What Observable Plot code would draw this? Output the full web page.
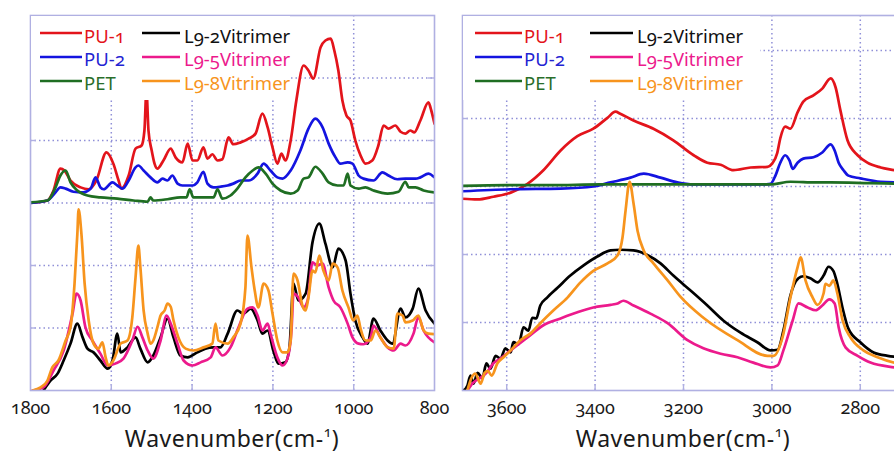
<!DOCTYPE html>
<html>
<head>
<meta charset="utf-8">
<script src="https://cdn.jsdelivr.net/npm/d3@7"></script>
<script src="https://cdn.jsdelivr.net/npm/@observablehq/plot@0.6"></script>
<style>
html, body { margin: 0; padding: 0; background: #fff; overflow: hidden; }
#wrap { position: relative; width: 894px; height: 455px; overflow: hidden; background: #fff;
  font-family: "Noto Sans", sans-serif; }
#wrap text { font-variant-numeric: oldstyle-nums; font-feature-settings: "onum" 1; }
.panel { position: absolute; top: 0; }
.panel svg { max-width: none; background: transparent; overflow: visible; }
#overlay { position: absolute; left: 0; top: 0; pointer-events: none; }
</style>
</head>
<body>
<div id="wrap">
  <div id="left" class="panel" style="left:0px;width:460px"></div>
  <div id="right" class="panel" style="left:440px;width:480px"></div>
  <svg id="overlay" width="894" height="455"></svg>
</div>
<script>
// ---------- series names and colours ----------
const seriesNames = ["PU-1", "PU-2", "PET", "L9-2Vitrimer", "L9-5Vitrimer", "L9-8Vitrimer"];
const seriesColors = ["#e3141b", "#1414e0", "#1f6e22", "#000000", "#ec1a8c", "#f7941d"];
const textColors  = ["#e3141b", "#2323d2", "#2a6e2a", "#111111", "#ec1a8c", "#f7941d"];

// ---------- axis ticks ----------
const leftTicks  = [1800, 1600, 1400, 1200, 1000, 800];
const leftGridX  = [1600, 1400, 1200, 1000];
const rightTicks = [3600, 3400, 3200, 3000, 2800];
const rightGridX = [3600, 3400, 3200, 3000, 2800];
const gridYLevels = [1, 2, 3, 4, 5];

// ---------- fingerprint region 1800–800 cm-1: [wavenumber, absorbance (offset)] ----------
const pu1Fp = [[1800,3.00],[1758,3.04],[1743,3.20],[1726,3.55],[1716,3.52],[1701,3.36],[1676,3.25],[1656,3.22],[1637,3.36],[1612,3.81],[1595,3.63],[1582,3.36],[1575,3.23],[1557,3.44],[1540,3.87],[1525,3.92],[1518,4.16],[1513,4.80],[1508,4.16],[1500,3.84],[1493,3.63],[1486,3.55],[1471,3.68],[1453,3.87],[1441,3.73],[1424,3.65],[1411,3.95],[1399,3.68],[1387,3.68],[1372,3.89],[1362,3.71],[1350,3.78],[1337,3.68],[1325,3.70],[1310,4.05],[1298,3.94],[1280,3.97],[1260,4.03],[1243,4.11],[1226,4.43],[1213,4.21],[1201,3.89],[1189,3.63],[1179,3.79],[1169,3.68],[1156,4.00],[1142,4.64],[1124,5.20],[1112,5.12],[1100,4.99],[1082,5.49],[1070,5.60],[1057,5.63],[1048,5.44],[1038,5.12],[1028,4.64],[1018,4.40],[1008,4.32],[996,4.00],[983,3.76],[971,3.63],[954,3.68],[939,3.92],[926,4.24],[914,4.19],[897,4.24],[884,4.14],[872,4.11],[860,4.16],[850,4.13],[835,4.32],[815,4.61],[808,4.48],[800,4.27]];
const pu2Fp = [[1800,3.00],[1758,3.04],[1738,3.17],[1726,3.25],[1713,3.23],[1694,3.18],[1669,3.17],[1651,3.23],[1639,3.41],[1627,3.25],[1619,3.22],[1597,3.33],[1585,3.28],[1572,3.23],[1557,3.36],[1540,3.57],[1533,3.60],[1520,3.52],[1503,3.41],[1486,3.33],[1473,3.39],[1461,3.36],[1449,3.44],[1436,3.31],[1424,3.28],[1399,3.28],[1387,3.33],[1372,3.50],[1362,3.31],[1347,3.25],[1330,3.26],[1312,3.28],[1298,3.31],[1280,3.36],[1260,3.36],[1238,3.47],[1223,3.63],[1206,3.52],[1189,3.41],[1176,3.39],[1156,3.52],[1132,3.84],[1112,4.19],[1095,4.35],[1077,4.21],[1062,3.95],[1045,3.73],[1033,3.63],[1015,3.65],[1003,3.63],[988,3.44],[976,3.39],[951,3.36],[929,3.49],[914,3.44],[892,3.38],[872,3.39],[847,3.39],[835,3.41],[815,3.47],[800,3.41]];
const petFp = [[1800,3.01],[1758,3.04],[1738,3.25],[1726,3.44],[1713,3.52],[1701,3.33],[1684,3.20],[1659,3.12],[1627,3.09],[1585,3.07],[1545,3.04],[1510,3.02],[1503,3.09],[1496,3.04],[1461,3.06],[1429,3.09],[1414,3.09],[1406,3.22],[1397,3.09],[1362,3.09],[1347,3.09],[1337,3.22],[1325,3.07],[1305,3.12],[1288,3.23],[1268,3.41],[1250,3.52],[1236,3.57],[1218,3.47],[1201,3.31],[1181,3.20],[1156,3.15],[1139,3.20],[1124,3.39],[1112,3.41],[1095,3.58],[1077,3.47],[1062,3.33],[1040,3.28],[1025,3.28],[1015,3.47],[1008,3.28],[988,3.23],[971,3.25],[951,3.20],[916,3.15],[889,3.18],[872,3.34],[864,3.25],[847,3.25],[827,3.20],[800,3.17]];
const l92Fp = [[1768,0.00],[1750,0.16],[1733,0.27],[1718,0.48],[1701,0.75],[1684,1.07],[1671,0.85],[1659,0.67],[1644,0.61],[1627,0.48],[1609,0.35],[1597,0.48],[1585,0.91],[1577,0.61],[1560,0.69],[1540,0.85],[1528,0.67],[1510,0.45],[1496,0.56],[1478,0.85],[1461,1.15],[1446,0.85],[1429,0.56],[1411,0.53],[1387,0.61],[1367,0.67],[1347,0.69],[1330,0.69],[1312,0.91],[1288,1.28],[1273,1.23],[1255,1.31],[1238,1.12],[1226,0.91],[1213,0.96],[1199,0.64],[1186,0.43],[1169,0.45],[1159,0.69],[1149,1.71],[1137,1.44],[1119,1.55],[1102,2.37],[1085,2.67],[1070,2.35],[1052,1.97],[1038,2.27],[1020,2.08],[1008,1.55],[996,1.12],[978,0.85],[966,0.75],[951,1.15],[934,0.96],[916,0.80],[904,0.75],[884,1.31],[872,1.17],[854,1.31],[840,1.63],[822,1.28],[800,1.07]];
const l95Fp = [[1795,0.00],[1768,0.05],[1743,0.32],[1718,0.64],[1696,1.23],[1686,1.55],[1676,1.44],[1664,1.01],[1647,0.80],[1627,0.59],[1609,0.40],[1590,0.43],[1570,0.51],[1548,0.80],[1535,1.02],[1523,0.85],[1510,0.64],[1496,0.51],[1478,0.80],[1463,1.20],[1453,1.07],[1436,0.75],[1421,0.48],[1399,0.40],[1379,0.45],[1354,0.53],[1342,0.69],[1325,0.56],[1305,0.69],[1285,1.01],[1263,1.31],[1250,1.33],[1238,1.20],[1226,0.96],[1213,1.07],[1206,0.91],[1189,0.53],[1176,0.40],[1164,0.51],[1154,0.96],[1149,1.55],[1137,1.49],[1124,1.33],[1114,1.44],[1102,2.05],[1090,2.00],[1077,2.03],[1062,1.65],[1050,1.44],[1033,1.33],[1015,1.07],[1003,0.85],[988,0.75],[976,0.74],[958,0.85],[951,1.04],[934,0.85],[916,0.69],[901,0.64],[884,0.75],[872,0.72],[852,0.91],[840,1.17],[827,0.96],[800,0.77]];
const l98Fp = [[1795,0.00],[1775,0.05],[1758,0.16],[1746,0.37],[1731,0.48],[1713,0.80],[1701,1.01],[1691,1.71],[1684,2.51],[1681,2.90],[1674,2.51],[1666,1.71],[1656,1.12],[1644,0.75],[1632,0.67],[1622,0.77],[1614,0.53],[1607,0.40],[1595,0.48],[1577,0.75],[1560,0.80],[1548,1.17],[1540,1.81],[1533,2.32],[1528,1.97],[1520,1.28],[1510,0.91],[1503,0.75],[1496,0.80],[1486,1.01],[1478,1.20],[1468,1.28],[1461,1.39],[1453,1.34],[1446,1.12],[1434,0.85],[1416,0.67],[1397,0.64],[1372,0.69],[1350,0.75],[1342,1.07],[1335,0.80],[1312,0.75],[1298,0.85],[1280,1.07],[1268,1.65],[1263,2.48],[1253,1.97],[1245,1.60],[1236,1.33],[1223,1.71],[1211,1.60],[1201,1.23],[1189,0.80],[1176,0.61],[1164,0.61],[1156,0.80],[1149,1.87],[1139,1.76],[1127,1.36],[1119,1.28],[1112,1.49],[1102,1.92],[1095,1.89],[1085,2.16],[1075,1.92],[1062,1.76],[1052,2.03],[1040,1.97],[1028,1.60],[1013,1.33],[1001,1.12],[991,1.20],[983,0.99],[971,0.80],[958,0.80],[946,0.96],[934,0.85],[916,0.69],[901,0.67],[892,1.23],[879,1.20],[872,1.09],[854,1.12],[840,1.20],[827,0.96],[815,0.91],[800,0.90]];

// ---------- stretching region 3700–2700 cm-1 ----------
const pu1Str = [[3700,2.82],[3666,2.81],[3630,2.85],[3591,2.91],[3553,3.04],[3517,3.24],[3478,3.53],[3440,3.74],[3404,3.85],[3372,4.01],[3354,4.10],[3343,4.07],[3313,3.97],[3268,3.85],[3223,3.68],[3177,3.46],[3146,3.35],[3116,3.32],[3087,3.24],[3048,3.28],[3010,3.29],[2999,3.34],[2988,3.49],[2981,3.71],[2970,3.88],[2958,3.85],[2942,4.09],[2929,4.25],[2906,4.34],[2886,4.44],[2867,4.59],[2856,4.46],[2845,4.12],[2829,3.68],[2806,3.46],[2784,3.35],[2754,3.28],[2723,3.24],[2700,3.21]];
const pu2Str = [[3700,2.93],[3591,2.96],[3478,2.97],[3404,3.00],[3365,3.06],[3320,3.13],[3290,3.19],[3252,3.13],[3214,3.06],[3177,3.03],[3100,3.03],[3026,3.03],[3003,3.04],[2992,3.16],[2981,3.35],[2970,3.46],[2960,3.38],[2953,3.26],[2942,3.35],[2929,3.41],[2906,3.43],[2886,3.50],[2867,3.62],[2858,3.53],[2849,3.35],[2838,3.24],[2827,3.16],[2800,3.12],[2754,3.07],[2700,3.06]];
const petStr = [[3700,3.01],[3600,3.02],[3500,3.02],[3388,3.03],[3200,3.03],[3003,3.03],[2958,3.07],[2900,3.06],[2867,3.06],[2780,3.05],[2700,3.04]];
const l92Str = [[3698,0.00],[3689,0.07],[3682,0.22],[3675,0.10],[3666,0.26],[3655,0.18],[3646,0.40],[3637,0.32],[3625,0.51],[3614,0.47],[3603,0.62],[3591,0.56],[3585,0.71],[3573,0.68],[3562,0.93],[3551,0.88],[3542,1.07],[3533,1.06],[3524,1.25],[3508,1.37],[3485,1.51],[3456,1.69],[3426,1.84],[3395,1.97],[3365,2.06],[3343,2.07],[3313,2.06],[3281,1.99],[3252,1.87],[3223,1.69],[3184,1.47],[3146,1.25],[3110,1.03],[3071,0.85],[3033,0.71],[3003,0.59],[2987,0.60],[2974,0.88],[2958,1.40],[2940,1.65],[2929,1.68],[2913,1.65],[2897,1.59],[2883,1.69],[2872,1.82],[2861,1.76],[2852,1.57],[2840,1.21],[2827,0.91],[2800,0.71],[2770,0.56],[2738,0.51],[2700,0.49]];
const l95Str = [[3689,0.00],[3675,0.12],[3659,0.19],[3646,0.26],[3630,0.40],[3614,0.47],[3591,0.59],[3553,0.78],[3517,0.96],[3478,1.06],[3440,1.15],[3404,1.22],[3365,1.26],[3349,1.28],[3336,1.32],[3313,1.25],[3275,1.13],[3236,0.99],[3191,0.74],[3155,0.62],[3116,0.54],[3078,0.49],[3042,0.41],[3003,0.34],[2987,0.37],[2974,0.59],[2953,1.03],[2940,1.28],[2919,1.22],[2901,1.18],[2886,1.25],[2870,1.34],[2858,1.28],[2849,0.93],[2833,0.63],[2806,0.51],[2777,0.41],[2723,0.34],[2700,0.32]];
const l98Str = [[3689,0.00],[3680,0.18],[3671,0.25],[3659,0.10],[3650,0.26],[3643,0.29],[3634,0.22],[3621,0.40],[3607,0.49],[3591,0.59],[3569,0.74],[3546,0.84],[3524,0.99],[3494,1.18],[3462,1.37],[3433,1.59],[3404,1.76],[3372,1.87],[3349,1.99],[3338,2.25],[3331,2.65],[3322,3.07],[3313,2.75],[3304,2.35],[3290,2.06],[3268,1.87],[3236,1.62],[3207,1.38],[3155,1.07],[3078,0.74],[3010,0.51],[2996,0.51],[2976,0.78],[2958,1.37],[2942,1.81],[2935,1.96],[2924,1.62],[2908,1.37],[2897,1.26],[2883,1.43],[2879,1.57],[2870,1.54],[2861,1.62],[2852,1.43],[2840,1.03],[2822,0.78],[2793,0.59],[2761,0.49],[2723,0.41],[2700,0.38]];

const leftSeries  = [pu1Fp, pu2Fp, petFp, l92Fp, l95Fp, l98Fp];
const rightSeries = [pu1Str, pu2Str, petStr, l92Str, l95Str, l98Str];

const frameColor = "#b0b0e2";
const gridColor = "#9090d8";
const FONT = "Noto Sans";

function panel(series, {width, ml, mr, xDomain, ticks, gridX, yDomain}) {
  const H = 455, mt = 15, mb = 65;
  const pw = width - ml - mr, ph = H - mt - mb;
  const grid = {stroke: gridColor, strokeOpacity: 1, strokeWidth: 1.5, strokeDasharray: "1.5,3"};
  return Plot.plot({
    width, height: H, marginLeft: ml, marginRight: mr, marginTop: mt, marginBottom: mb,
    style: {background: "transparent", fontFamily: FONT, color: "#1a1a1a", overflow: "visible"},
    x: {domain: xDomain, axis: null},
    y: {domain: yDomain, axis: null},
    marks: [
      Plot.gridX(gridX, grid),
      Plot.gridY(gridYLevels, grid),
      Plot.tickX(gridX, {x: d => d, insetTop: ph - 6, stroke: frameColor, strokeWidth: 1.4}),
      Plot.tickY(gridYLevels, {y: d => d, insetRight: pw - 6, stroke: frameColor, strokeWidth: 1.4}),
      Plot.tickY(gridYLevels, {y: d => d, insetLeft: pw - 6, stroke: frameColor, strokeWidth: 1.4}),
      ...series.map((s, i) => Plot.line(s, {
        x: d => d[0], y: d => d[1], stroke: seriesColors[i], strokeWidth: 2.7,
        curve: "monotone-x", clip: true
      })),
      Plot.frame({stroke: frameColor, strokeWidth: 1.6}),
      Plot.axisX(ticks, {anchor: "bottom", tickSize: 0, tickPadding: 11, fontSize: 18,
        fill: "#1a1a1a", label: null, tickFormat: d => String(d)})
    ]
  });
}

document.getElementById("left").append(panel(leftSeries, {
  width: 460, ml: 30, mr: 26, xDomain: [1800, 800], ticks: leftTicks, gridX: leftGridX, yDomain: [0, 6]
}));
document.getElementById("right").append(panel(rightSeries, {
  width: 480, ml: 22, mr: 16, xDomain: [3700, 2700], ticks: rightTicks, gridX: rightGridX, yDomain: [0, 5.515]
}));

// ---------- legends & axis titles (overlay) ----------
const ov = d3.select("#overlay");
const legends = [
  {box: [31, 16, 259, 84], cols: [[40, 82, 84], [142, 180, 184]]},
  {box: [463, 16, 297, 84], cols: [[475, 522, 524], [590, 633, 637]]}
];
const rowLine = [33, 57, 81], rowText = [43, 66, 90];
for (const lg of legends) {
  ov.append("rect").attr("x", lg.box[0]).attr("y", lg.box[1]).attr("width", lg.box[2]).attr("height", lg.box[3]).attr("fill", "#fff");
  seriesNames.forEach((name, i) => {
    const c = lg.cols[Math.floor(i / 3)], r = i % 3;
    ov.append("line").attr("x1", c[0]).attr("x2", c[1]).attr("y1", rowLine[r]).attr("y2", rowLine[r])
      .attr("stroke", seriesColors[i]).attr("stroke-width", 2.6);
    ov.append("text").attr("x", c[2]).attr("y", rowText[r]).attr("fill", textColors[i])
      .attr("font-family", FONT).attr("font-size", 18.5).text(name);
  });
}
for (const cx of [232, 683]) {
  const t = ov.append("text").attr("x", cx).attr("y", 447).attr("text-anchor", "middle")
    .attr("font-family", FONT).attr("font-size", 23).attr("letter-spacing", 0.5).attr("fill", "#1a1a1a");
  t.append("tspan").text("Wavenumber(cm-");
  t.append("tspan").attr("dy", -10).attr("font-size", 14).text("1");
  t.append("tspan").attr("dy", 10).text(")");
}
</script>
</body>
</html>
